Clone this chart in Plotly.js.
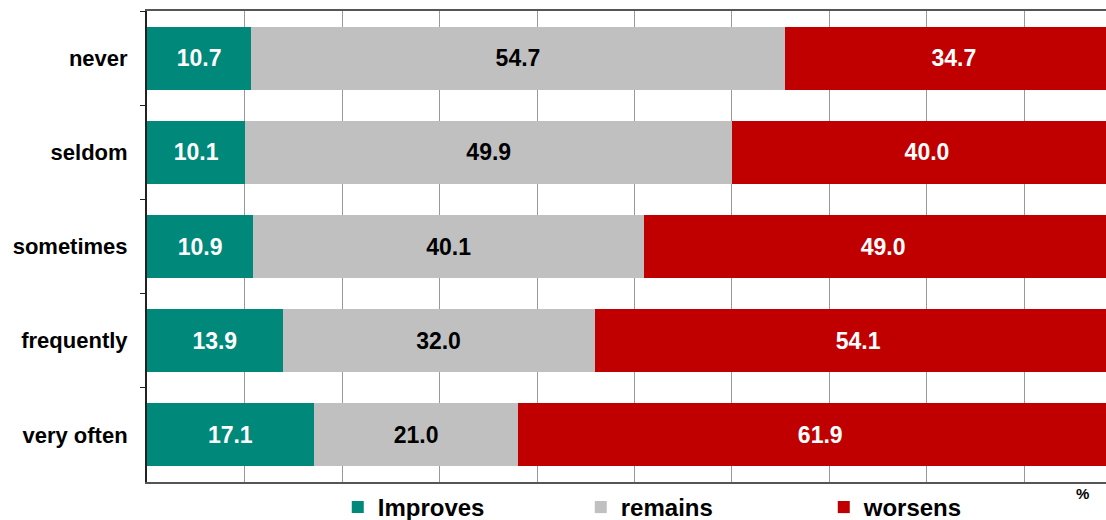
<!DOCTYPE html>
<html>
<head>
<meta charset="utf-8">
<script src="https://cdn.plot.ly/plotly-3.0.1.min.js"></script>
<style>html,body{margin:0;padding:0;background:#fff;}#chart{width:1106px;height:520px;}</style>
</head>
<body>
<div id="chart"></div>
<script>
var categories = ["never", "seldom", "sometimes", "frequently", "very often"];
var improves = [10.7, 10.1, 10.9, 13.9, 17.1];
var remains = [54.7, 49.9, 40.1, 32.0, 21.0];
var worsens = [34.7, 40.0, 49.0, 54.1, 61.9];
var seriesNames = ["Improves", "remains", "worsens"];
var colors = ["#00887A", "#C0C0C0", "#C00000"];
var textColors = ["#FFFFFF", "#000000", "#FFFFFF"];
var FONT = "Liberation Sans, Arial, sans-serif";

var values = [improves, remains, worsens];
var traces = values.map(function (v, i) {
  return {
    type: "bar",
    orientation: "h",
    name: seriesNames[i],
    y: categories,
    x: v,
    marker: { color: colors[i], line: { width: 0 } },
    text: v.map(function (d) { return d.toFixed(1); }),
    textposition: "inside",
    insidetextanchor: "middle",
    textangle: 0,
    constraintext: "none",
    insidetextfont: { family: FONT, size: 23, color: textColors[i], weight: "bold" },
    hoverinfo: "x+y+name"
  };
});

var layout = {
  width: 1106,
  height: 520,
  barmode: "stack",
  bargap: 0.33,
  paper_bgcolor: "#FFFFFF",
  plot_bgcolor: "#FFFFFF",
  margin: { l: 147, r: 0, t: 11, b: 38, pad: 0, autoexpand: false },
  font: { family: FONT, color: "#000" },
  xaxis: {
    range: [0, 98.36],
    dtick: 10,
    tick0: 0,
    showticklabels: false,
    showgrid: true,
    gridcolor: "#999999",
    gridwidth: 1,
    zeroline: false,
    showline: true,
    linecolor: "#555555",
    linewidth: 2,
    mirror: true,
    ticks: "",
    fixedrange: true
  },
  yaxis: {
    type: "category",
    categoryorder: "array",
    categoryarray: categories,
    autorange: "reversed",
    showgrid: false,
    zeroline: false,
    showline: true,
    linecolor: "#222222",
    linewidth: 2,
    ticks: "outside",
    tickson: "boundaries",
    ticklen: 5,
    tickcolor: "#222222",
    tickwidth: 1,
    ticklabelstandoff: 13,
    tickfont: { family: FONT, size: 22, color: "#000", weight: "bold" },
    fixedrange: true
  },
  showlegend: true,
  legend: {
    orientation: "h",
    xref: "paper",
    x: 0.579,
    xanchor: "center",
    yref: "paper",
    y: -0.0064,
    yanchor: "top",
    font: { family: FONT, size: 24, color: "#000", weight: "bold" },
    itemwidth: 30,
    entrywidth: 198,
    entrywidthmode: "pixels",
    bgcolor: "rgba(0,0,0,0)",
    traceorder: "normal"
  },
  annotations: [{
    text: "%",
    xref: "paper",
    yref: "paper",
    x: 0.976,
    y: -0.0234,
    xanchor: "center",
    yanchor: "middle",
    showarrow: false,
    font: { family: FONT, size: 15, color: "#000", weight: "bold" }
  }]
};

Plotly.newPlot("chart", traces, layout, { displayModeBar: false, staticPlot: true });
</script>
</body>
</html>
